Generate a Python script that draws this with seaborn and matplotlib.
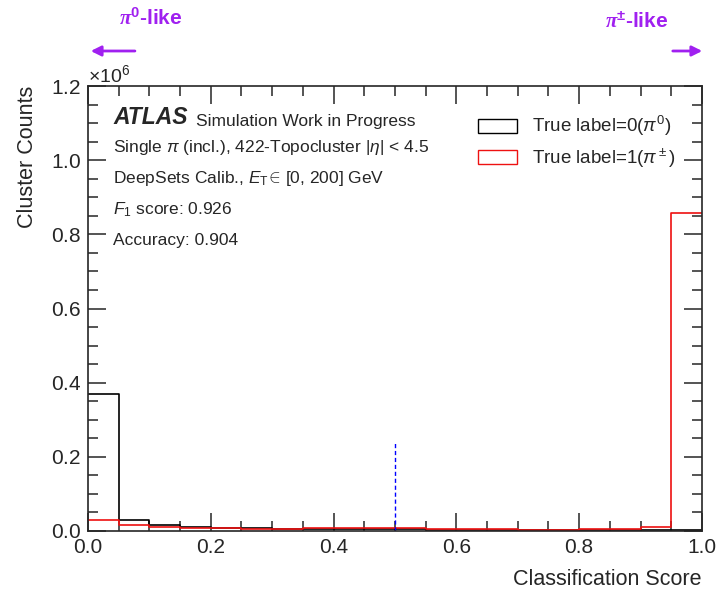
import numpy as np
import pandas as pd
import matplotlib
matplotlib.use("Agg")
import matplotlib.pyplot as plt
from matplotlib.patches import Patch
from matplotlib.ticker import MultipleLocator
import seaborn as sns

# histogram bins of the classification score
bin_edges = np.linspace(0.0, 1.0, 21)
bin_centers = 0.5 * (bin_edges[:-1] + bin_edges[1:])

# cluster counts per bin, in millions
pi0_counts = [0.370, 0.030, 0.016, 0.012, 0.008, 0.007, 0.006, 0.006, 0.005, 0.005,
              0.005, 0.004, 0.004, 0.004, 0.003, 0.003, 0.003, 0.003, 0.003, 0.004]
pipm_counts = [0.030, 0.015, 0.011, 0.009, 0.008, 0.006, 0.006, 0.007, 0.007, 0.007,
               0.007, 0.006, 0.006, 0.005, 0.004, 0.004, 0.005, 0.005, 0.010, 0.858]

threshold = 0.5
threshold_height = 0.24  # millions

info_lines = [
    r"Single $\pi$ (incl.), 422-Topocluster $|\eta|$ < 4.5",
    r"DeepSets Calib., $E_{\mathrm{T}}\!\in\!$ [0, 200] GeV",
    r"$F_1$ score: 0.926",
    "Accuracy: 0.904",
]
legend_labels = [r"True label=0($\pi^0$)", r"True label=1($\pi^\pm$)"]

pi0_df = pd.DataFrame({"score": bin_centers, "counts": np.array(pi0_counts) * 1e6})
pipm_df = pd.DataFrame({"score": bin_centers, "counts": np.array(pipm_counts) * 1e6})

sns.set_style("ticks")
plt.rcParams["font.family"] = ["Liberation Sans", "DejaVu Sans"]
plt.rcParams["mathtext.fontset"] = "custom"
plt.rcParams["mathtext.rm"] = "Liberation Sans"
plt.rcParams["mathtext.it"] = "Liberation Sans:italic"
plt.rcParams["mathtext.bf"] = "Liberation Sans:bold"
plt.rcParams["mathtext.bfit"] = "Liberation Serif:italic:bold"

fig = plt.figure(figsize=(7.17, 5.9), dpi=100)
ax = fig.add_axes([0.1227, 0.1, 0.8563, 0.754])

sns.histplot(data=pi0_df, x="score", weights="counts", binwidth=0.05, binrange=(0, 1),
             element="step", fill=False, color="black", linewidth=1.2, ax=ax)
sns.histplot(data=pipm_df, x="score", weights="counts", binwidth=0.05, binrange=(0, 1),
             element="step", fill=False, color="#ee1111", linewidth=1.2, ax=ax)
ax.vlines(threshold, 0, threshold_height * 1e6, colors="blue", linestyles=(0, (3, 2)),
          linewidth=1.0)

ax.set_xlim(0, 1)
ax.set_ylim(0, 1.2e6)
ax.xaxis.set_major_locator(MultipleLocator(0.2))
ax.xaxis.set_minor_locator(MultipleLocator(0.05))
ax.yaxis.set_major_locator(MultipleLocator(0.2e6))
ax.yaxis.set_minor_locator(MultipleLocator(0.05e6))
ax.ticklabel_format(axis="y", style="sci", scilimits=(0, 0), useMathText=True)
ax.yaxis.get_offset_text().set_fontsize(14)
ax.tick_params(which="both", direction="in", top=True, right=True, labelsize=15, width=1.1)
ax.tick_params(which="major", length=13, pad=5)
ax.tick_params(which="minor", length=7)
for s in ax.spines.values():
    s.set_linewidth(1.2)

ax.set_xlabel("Classification Score", fontsize=15.5, loc="right", labelpad=9)
ax.set_ylabel("Cluster Counts", fontsize=15.5, loc="top", labelpad=9)

t = ax.text(0.041, 0.915, "ATLAS", transform=ax.transAxes, fontsize=16.5,
            fontweight="bold", fontstyle="italic", va="baseline")
ax.annotate("Simulation Work in Progress", xy=(1, 0), xycoords=t, xytext=(6, 0),
            textcoords="offset points", fontsize=12.5, va="bottom")
for i, line in enumerate(info_lines):
    ax.text(0.041, 0.853 - i * 0.07, line, transform=ax.transAxes, fontsize=12.5, va="baseline")

handles = [Patch(facecolor="none", edgecolor="black"), Patch(facecolor="none", edgecolor="#ee1111")]
ax.legend(handles, legend_labels, loc="upper right", bbox_to_anchor=(0.985, 0.975), frameon=False,
          fontsize=13.5, handlelength=2.1, handleheight=0.75, labelspacing=0.45, handletextpad=0.8)

purple = "#a020f0"
ax.annotate("", xy=(0.0, 1.079), xytext=(0.081, 1.079), xycoords="axes fraction",
            arrowprops=dict(arrowstyle="-|>", color=purple, lw=2, mutation_scale=15),
            annotation_clip=False)
ax.annotate("", xy=(1.005, 1.079), xytext=(0.948, 1.079), xycoords="axes fraction",
            arrowprops=dict(arrowstyle="-|>", color=purple, lw=2, mutation_scale=15),
            annotation_clip=False)
ax.text(0.102, 1.153, r"$\mathbfit{\pi}^{\mathbf{0}}$-like", transform=ax.transAxes, color=purple,
        fontsize=15, fontweight="bold", ha="center", va="center")
ax.text(0.894, 1.144, r"$\mathbfit{\pi}^{\mathbf{\pm}}$-like", transform=ax.transAxes, color=purple,
        fontsize=15, fontweight="bold", ha="center", va="center")

fig.savefig("out.png", dpi=100)
